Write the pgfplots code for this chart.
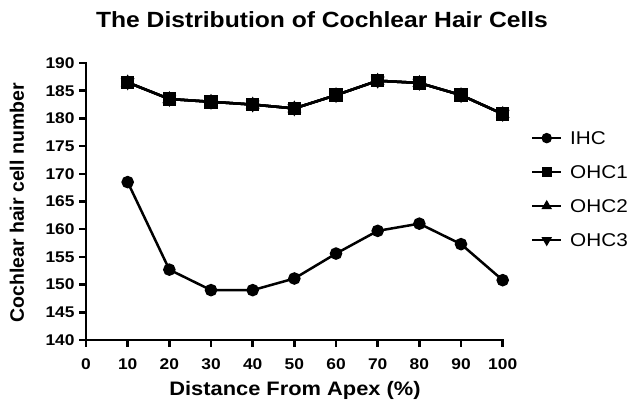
\documentclass[border=0pt]{standalone}
\usepackage{fontspec}
\setmainfont{Liberation Sans}[FakeStretch=1.12]
\newfontfamily\ylabfont{Liberation Sans}
\usepackage{pgfplots}
\pgfplotsset{compat=1.18}
\begin{document}
\begin{tikzpicture}
\path[use as bounding box] (0,0) rectangle (632pt,409pt);
\begin{axis}[
  at={(86pt,69pt)}, anchor=south west,
  scale only axis, width=416.7pt, height=277pt,
  xmin=0, xmax=100, ymin=140, ymax=190,
  xtick={0,10,...,100}, ytick={140,145,...,190},
  axis x line=bottom, axis y line=left,
  axis line style={-, line width=2.8pt, line cap=rect},
  tick align=outside, major tick length=7pt,
  tick style={line width=2.5pt, black},
  /pgf/number format/assume math mode=true,
  tick label style={font=\fontsize{15.5}{16}\selectfont\bfseries},
  xticklabel style={yshift=-8pt},
  yticklabel style={xshift=-1pt},
  clip=false,
  legend style={at={(1.068,0.753)}, anchor=north west, draw=none, fill=none,
    inner sep=0pt, row sep=21pt, column sep=8pt,
    font=\fontsize{18.5}{19}\selectfont,
    nodes={inner sep=0pt, text height=13pt, text depth=0pt}},
  legend cell align=left,
  legend image code/.code={\draw[mark repeat=2,mark phase=2,#1,line width=2pt,mark size=4.2pt] plot coordinates {(0pt,0pt) (14.5pt,0pt) (29pt,0pt)};},
]
\addplot[black, line width=2.5pt, mark=*, mark size=5pt, mark options={solid}] coordinates {
(10,168.5) (20,152.7) (30,149.0) (40,149.0) (50,151.1) (60,155.6) (70,159.7) (80,161.0) (90,157.3) (100,150.8)};
\addlegendentry{IHC}
\addplot[black, line width=2.5pt, mark=square*, mark size=5.5pt] coordinates {
(10,186.5) (20,183.5) (30,183.0) (40,182.5) (50,181.8) (60,184.2) (70,186.8) (80,186.4) (90,184.2) (100,180.8)};
\addlegendentry{OHC1}
\addplot[black, line width=2.5pt, mark=triangle*, mark size=5.5pt] coordinates {
(10,186.5) (20,183.5) (30,183.0) (40,182.5) (50,181.8) (60,184.2) (70,186.8) (80,186.4) (90,184.2) (100,180.8)};
\addlegendentry{OHC2}
\addplot[black, line width=2.5pt, mark=triangle*, mark size=5.5pt, mark options={rotate=180}] coordinates {
(10,186.5) (20,183.5) (30,183.0) (40,182.5) (50,181.8) (60,184.2) (70,186.8) (80,186.4) (90,184.2) (100,180.8)};
\addlegendentry{OHC3}
\addplot[black, line width=2.5pt, mark=square*, mark size=5.5pt, forget plot] coordinates {
(10,186.5) (20,183.5) (30,183.0) (40,182.5) (50,181.8) (60,184.2) (70,186.8) (80,186.4) (90,184.2) (100,180.8)};
\end{axis}
\node[font=\fontsize{22}{24}\selectfont\bfseries] at (322pt,389pt) {The Distribution of Cochlear Hair Cells};
\node[font=\fontsize{19.5}{21}\selectfont\bfseries] at (295pt,19pt) {Distance From Apex (\%)};
\node[rotate=90, font=\ylabfont\fontsize{19.5}{21}\selectfont\bfseries] at (17pt,206pt) {Cochlear hair cell number};
\end{tikzpicture}
\end{document}
